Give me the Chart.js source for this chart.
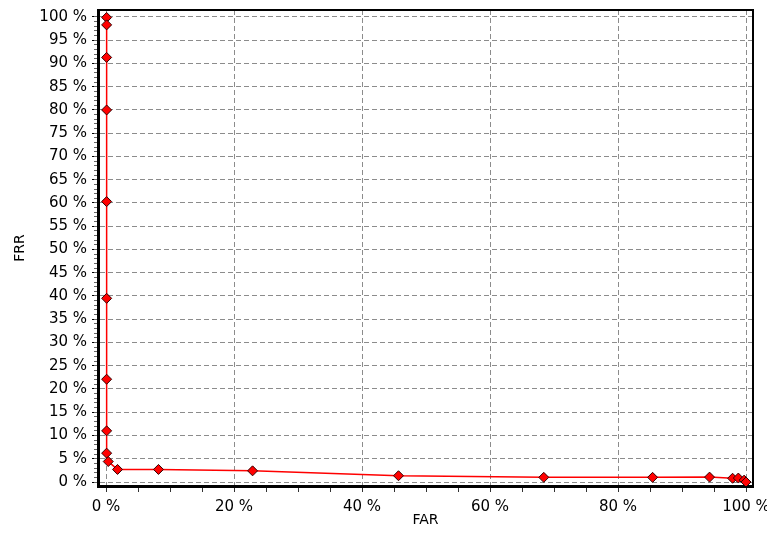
<!DOCTYPE html>
<html>
<head>
<meta charset="utf-8">
<script src="https://cdn.jsdelivr.net/npm/chart.js@4.4.0/dist/chart.umd.min.js"></script>
<style>
  html, body { margin: 0; padding: 0; background: #fff; }
  canvas { display: block; }
</style>
</head>
<body>
<canvas id="detChart" width="767" height="538"></canvas>
<script>
// --- Data (percent) ---
const farValues = [0.1, 0.1, 0.1, 0.1, 0.1, 0.1, 0.1, 0.1, 0.1, 0.35, 1.8, 8.2, 22.9, 45.7, 68.4, 85.4, 94.3, 97.9, 98.8, 99.7, 100];
const frrValues = [99.9, 98.3, 91.3, 80.0, 60.3, 39.5, 22.1, 11.0, 6.2, 4.4, 2.7, 2.7, 2.4, 1.35, 1.0, 1.0, 1.05, 0.8, 0.85, 0.4, 0.0];

// --- Ticks ---
const xTickValues = [0, 20, 40, 60, 80, 100];
const yTickValues = [0, 5, 10, 15, 20, 25, 30, 35, 40, 45, 50, 55, 60, 65, 70, 75, 80, 85, 90, 95, 100];
const xMinorTicks = [0, 5, 10, 15, 20, 25, 30, 35, 40, 45, 50, 55, 60, 65, 70, 75, 80, 85, 90, 95, 100];
const yMinorTicks = Array.from({ length: 101 }, (_, i) => i);

const xRange = { min: -1.25, max: 101.09 };
const yRange = { min: -0.86, max: 101.5 };

const tickFont = { family: 'DejaVu Sans', size: 15 };
const titleFont = { family: 'DejaVu Sans', size: 14 };
const gridColor = '#8c8c8c';
const gridDash = [5, 3];

const setTicks = list => axis => { axis.ticks = list.map(v => ({ value: v })); };
const noPad = s => { s.paddingLeft = 0; s.paddingRight = 0; s.paddingTop = 0; s.paddingBottom = 0; };

new Chart(document.getElementById('detChart'), {
    type: 'scatter',
    data: {
        datasets: [{
            label: 'DET',
            data: farValues.map((x, i) => ({ x: x, y: frrValues[i] })),
            showLine: true,
            borderColor: '#ff0000',
            borderWidth: 1.5,
            pointStyle: 'rectRot',
            pointRadius: 5,
            pointBackgroundColor: '#ff0000',
            pointBorderColor: '#300000',
            pointBorderWidth: 1
        }]
    },
    options: {
        responsive: false,
        animation: false,
        layout: { padding: { top: 10, right: 14, bottom: 0, left: 0 } },
        plugins: { legend: { display: false }, tooltip: { enabled: false } },
        scales: {
            x: {
                type: 'linear', position: 'bottom', weight: 1,
                min: xRange.min, max: xRange.max,
                afterBuildTicks: setTicks(xTickValues),
                afterFit: s => { s.height = 52; noPad(s); },
                grid: { color: gridColor, lineWidth: 1, tickColor: '#000', tickLength: 5 },
                border: { display: true, color: '#000', width: 3, dash: gridDash },
                ticks: { color: '#000', font: tickFont, padding: 7, maxRotation: 0, autoSkip: false, callback: v => v + ' %' },
                title: { display: true, text: 'FAR', color: '#000', font: titleFont, padding: { top: 0, bottom: 9 } }
            },
            xMinor: {
                type: 'linear', position: 'bottom', weight: 0,
                min: xRange.min, max: xRange.max,
                afterBuildTicks: setTicks(xMinorTicks),
                afterFit: s => { s.height = 0; noPad(s); },
                grid: { drawOnChartArea: false, tickColor: '#333', tickLength: 6 },
                border: { display: false },
                ticks: { display: false }
            },
            xTop: {
                type: 'linear', position: 'top',
                min: xRange.min, max: xRange.max,
                afterFit: s => { s.height = 0; noPad(s); },
                grid: { drawOnChartArea: false, drawTicks: false },
                border: { display: true, color: '#000', width: 2 },
                ticks: { display: false }
            },
            y: {
                type: 'linear', position: 'left', weight: 1,
                min: yRange.min, max: yRange.max,
                afterBuildTicks: setTicks(yTickValues),
                afterFit: s => { s.width = 98; noPad(s); },
                grid: { color: gridColor, lineWidth: 1, tickColor: '#000', tickLength: 6 },
                border: { display: true, color: '#000', width: 3, dash: gridDash },
                ticks: { color: '#000', font: tickFont, padding: 5, autoSkip: false, callback: v => v + ' %' },
                title: { display: true, text: 'FRR', color: '#000', font: titleFont, padding: { top: 12, bottom: 0 } }
            },
            yMinor: {
                type: 'linear', position: 'left', weight: 0,
                min: yRange.min, max: yRange.max,
                afterBuildTicks: setTicks(yMinorTicks),
                afterFit: s => { s.width = 0; noPad(s); },
                grid: { drawOnChartArea: false, tickColor: '#666', tickLength: 4 },
                border: { display: false },
                ticks: { display: false }
            },
            yRight: {
                type: 'linear', position: 'right',
                min: yRange.min, max: yRange.max,
                afterFit: s => { s.width = 0; noPad(s); },
                grid: { drawOnChartArea: false, drawTicks: false },
                border: { display: true, color: '#000', width: 2 },
                ticks: { display: false }
            }
        }
    }
});
</script>
</body>
</html>
